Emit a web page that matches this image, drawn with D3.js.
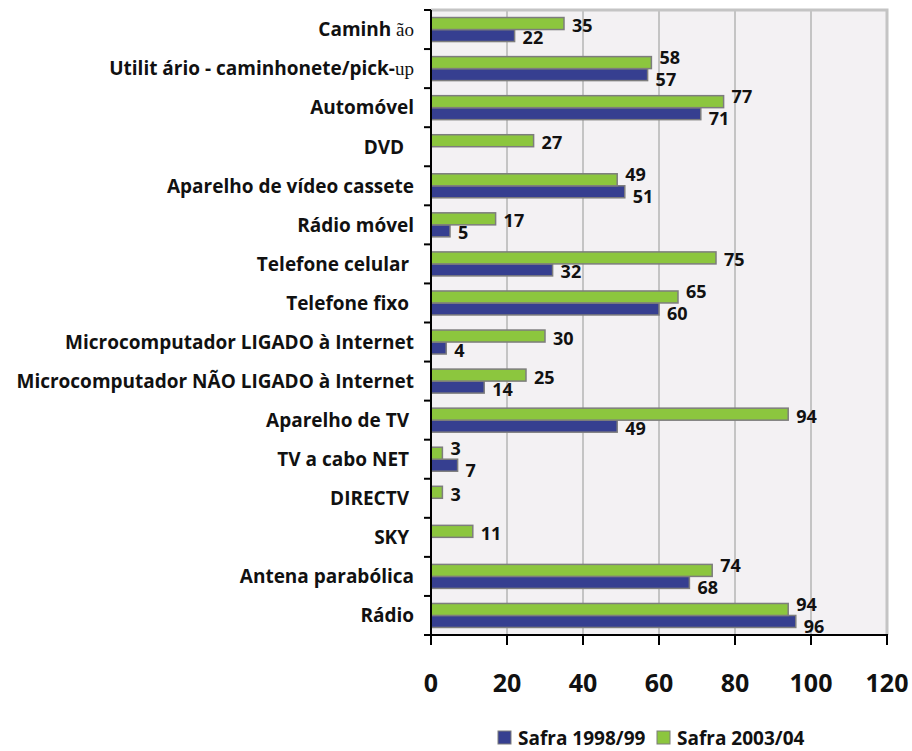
<!DOCTYPE html>
<html>
<head>
<meta charset="utf-8">
<script src="https://d3js.org/d3.v7.min.js"></script>
<style>
  body { margin: 0; background: #fff; }
  text { font-family: "Open Sans", "Noto Sans", sans-serif; font-weight: bold; fill: #111; }
</style>
</head>
<body>
<script>
// categories top to bottom; label parts: [text, serif?]
const categories = [
  [["Caminh", false], [" ão", true]],
  [["Utilit ário - caminhonete/pick-", false], ["up", true]],
  [["Automóvel", false]],
  [["DVD  ", false]],
  [["Aparelho de vídeo cassete", false]],
  [["Rádio móvel", false]],
  [["Telefone celular ", false]],
  [["Telefone fixo ", false]],
  [["Microcomputador LIGADO à Internet", false]],
  [["Microcomputador NÃO LIGADO à Internet", false]],
  [["Aparelho de TV ", false]],
  [["TV a cabo NET ", false]],
  [["DIRECTV ", false]],
  [["SKY ", false]],
  [["Antena parabólica", false]],
  [["Rádio", false]]
]
const safra9899 = [22, 57, 71, null, 51, 5, 32, 60, 4, 14, 49, 7, null, null, 68, 96]
const safra0304 = [35, 58, 77, 27, 49, 17, 75, 65, 30, 25, 94, 3, 3, 11, 74, 94]
const seriesNames = ["Safra 1998/99", "Safra 2003/04"]
const seriesColors = ["#363f90", "#8cc63e"]
const xTicks = [0, 20, 40, 60, 80, 100, 120]

const W = 912, H = 751
const m = { left: 431, right: 887, top: 10, bottom: 635 }

const svg = d3.select("body").append("svg")
  .attr("width", W).attr("height", H)

const x = d3.scaleLinear().domain([0, 120]).range([m.left, m.right])
const y = d3.scaleBand().domain(d3.range(categories.length)).range([m.top, m.bottom])
const inner = d3.scaleBand().domain([1, 0]).range([0, 24])  // green on top, blue below
const groupOff = (y.bandwidth() - 24) / 2

// plot background + frame
svg.append("rect")
  .attr("x", m.left).attr("y", m.top)
  .attr("width", m.right - m.left).attr("height", m.bottom - m.top)
  .attr("fill", "#f3f1f3")
svg.append("path")
  .attr("d", `M${m.left},${m.top}H${m.right}V${m.bottom}`)
  .attr("fill", "none").attr("stroke", "#c4c4c4").attr("stroke-width", 3)

// gridlines
svg.append("g").selectAll("line")
  .data(xTicks.filter(d => d > 0 && d < 120))
  .join("line")
  .attr("x1", d => x(d)).attr("x2", d => x(d))
  .attr("y1", m.top).attr("y2", m.bottom)
  .attr("stroke", "#c4c4c4").attr("stroke-width", 2)

// bars
const bars = []
categories.forEach((c, i) => {
  const pair = [safra9899[i], safra0304[i]]
  const both = pair[0] != null && pair[1] != null
  // when both labels sit near each other, spread them apart
  const close = both && Math.abs(pair[0] - pair[1]) < 8
  pair.forEach((v, s) => {
    if (v == null) return
    let off = 2
    if (close) off = s === 1 ? -5 : 5
    bars.push({ i, s, v, off })
  })
})

svg.append("g").selectAll("rect")
  .data(bars)
  .join("rect")
  .attr("x", x(0))
  .attr("y", d => y(d.i) + groupOff + inner(d.s))
  .attr("width", d => x(d.v) - x(0))
  .attr("height", inner.bandwidth())
  .attr("fill", d => seriesColors[d.s])
  .attr("stroke", "#7d7d7d").attr("stroke-width", 1.5)

// value labels
svg.append("g").selectAll("text")
  .data(bars)
  .join("text")
  .attr("x", d => x(d.v) + 8)
  .attr("y", d => y(d.i) + groupOff + inner(d.s) + inner.bandwidth() / 2 + d.off)
  .attr("dy", "0.36em")
  .attr("font-size", 18)
  .text(d => d.v)

// axes
const yAxis = svg.append("g")
  .attr("transform", `translate(${m.left},0)`)
yAxis.append("line")
  .attr("y1", m.top).attr("y2", m.bottom)
  .attr("stroke", "#000").attr("stroke-width", 2)
yAxis.selectAll(".tk")
  .data(d3.range(categories.length + 1))
  .join("line")
  .attr("x1", -7).attr("x2", 0)
  .attr("y1", d => m.top + d * y.step()).attr("y2", d => m.top + d * y.step())
  .attr("stroke", "#000").attr("stroke-width", 2)

const xAxis = svg.append("g").attr("transform", `translate(0,${m.bottom})`)
xAxis.append("line")
  .attr("x1", m.left - 1).attr("x2", m.right + 1)
  .attr("stroke", "#000").attr("stroke-width", 2)
xAxis.selectAll(".tk")
  .data(xTicks)
  .join("line")
  .attr("x1", d => x(d)).attr("x2", d => x(d))
  .attr("y1", 0).attr("y2", 10)
  .attr("stroke", "#000").attr("stroke-width", 2)
xAxis.selectAll("text")
  .data(xTicks)
  .join("text")
  .attr("x", d => x(d)).attr("y", 57)
  .attr("text-anchor", "middle")
  .attr("font-size", 25)
  .text(d => d)

// category labels
svg.append("g").selectAll("text")
  .data(categories)
  .join("text")
  .attr("x", 414)
  .attr("y", (d, i) => y(i) + y.bandwidth() / 2)
  .attr("dy", "0.36em")
  .attr("text-anchor", "end")
  .attr("font-size", 19)
  .style("white-space", "pre")
  .selectAll("tspan")
  .data(d => d)
  .join("tspan")
  .style("font-family", d => d[1] ? "'Liberation Serif', serif" : null)
  .style("font-weight", d => d[1] ? "normal" : null)
  .attr("font-size", d => d[1] ? 19 : null)
  .text(d => d[0])

// legend
const lg = svg.append("g").attr("transform", "translate(498,731)")
const items = lg.selectAll("g")
  .data(seriesNames)
  .join("g")
  .attr("transform", (d, i) => `translate(${i * 159},0)`)
items.append("rect")
  .attr("width", 13).attr("height", 13)
  .attr("fill", (d, i) => seriesColors[i])
  .attr("stroke", "#7d7d7d").attr("stroke-width", 1)
items.append("text")
  .attr("x", 20).attr("y", 7)
  .attr("dy", "0.36em")
  .attr("font-size", 19)
  .text(d => d)
</script>
</body>
</html>
